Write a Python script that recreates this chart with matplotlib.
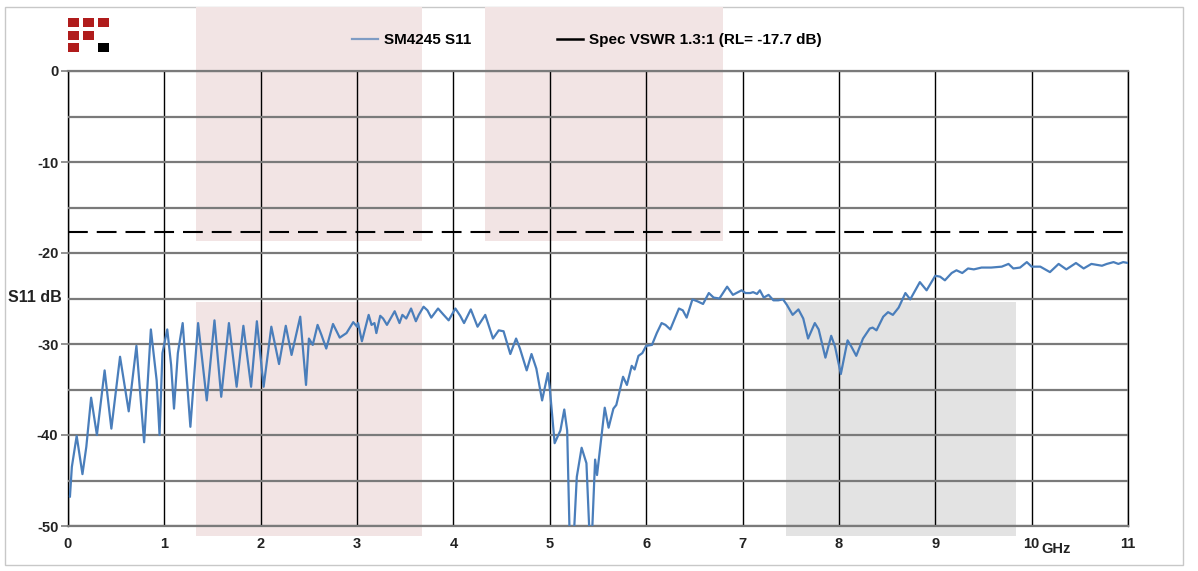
import matplotlib
matplotlib.use('Agg')
import matplotlib.pyplot as plt
from matplotlib.patches import Rectangle
from matplotlib.lines import Line2D

plt.rcParams['font.family'] = ['Liberation Sans', 'DejaVu Sans']
plt.rcParams['axes.unicode_minus'] = False

# S11 trace (GHz, dB)
freq_ghz = [0.02, 0.04, 0.09, 0.15, 0.19, 0.24, 0.30, 0.38, 0.45, 0.54,
            0.63, 0.71, 0.79, 0.86, 0.92, 0.95, 0.98, 1.03, 1.07, 1.10,
            1.14, 1.19, 1.27, 1.35, 1.44, 1.52, 1.59, 1.67, 1.75, 1.82,
            1.90, 1.96, 2.03, 2.11, 2.19, 2.26, 2.32, 2.41, 2.47, 2.50,
            2.54, 2.59, 2.63, 2.68, 2.75, 2.82, 2.89, 2.96, 3.00, 3.01,
            3.05, 3.12, 3.15, 3.18, 3.20, 3.24, 3.27, 3.31, 3.39, 3.44,
            3.47, 3.51, 3.56, 3.61, 3.64, 3.69, 3.73, 3.77, 3.84, 3.89,
            3.95, 4.02, 4.07, 4.11, 4.18, 4.25, 4.33, 4.41, 4.47, 4.52,
            4.59, 4.65, 4.69, 4.76, 4.81, 4.86, 4.92, 4.98, 5.00, 5.05,
            5.11, 5.15, 5.18, 5.21, 5.24, 5.28, 5.33, 5.38, 5.42, 5.43,
            5.47, 5.49, 5.57, 5.61, 5.66, 5.69, 5.76, 5.80, 5.85, 5.88,
            5.92, 5.96, 6.00, 6.06, 6.11, 6.16, 6.20, 6.25, 6.34, 6.38,
            6.42, 6.48, 6.53, 6.59, 6.65, 6.70, 6.76, 6.84, 6.90, 6.99,
            7.03, 7.08, 7.11, 7.15, 7.18, 7.22, 7.27, 7.32, 7.37, 7.42,
            7.46, 7.52, 7.58, 7.63, 7.68, 7.75, 7.79, 7.86, 7.92, 7.96,
            8.02, 8.09, 8.13, 8.18, 8.25, 8.32, 8.35, 8.39, 8.46, 8.51,
            8.56, 8.62, 8.69, 8.74, 8.84, 8.91, 9.00, 9.05, 9.10, 9.17,
            9.22, 9.28, 9.34, 9.40, 9.48, 9.58, 9.69, 9.76, 9.81, 9.88,
            9.95, 10.00, 10.09, 10.19, 10.28, 10.36, 10.46, 10.54, 10.62, 10.73,
            10.78, 10.85, 10.90, 10.95, 11.00]
s11_db = [-46.8, -43.5, -40.1, -44.3, -41.3, -35.9, -40.0, -32.9, -39.3, -31.4,
          -37.4, -30.2, -40.8, -28.4, -34.0, -40.0, -31.0, -28.4, -32.3, -37.1,
          -31.0, -27.7, -39.1, -27.7, -36.2, -27.4, -35.8, -27.7, -34.7, -28.0,
          -34.7, -27.5, -34.7, -28.1, -32.2, -28.0, -31.2, -27.0, -34.5, -29.4,
          -30.1, -27.9, -29.0, -30.5, -27.8, -29.3, -28.8, -27.6, -28.1, -27.7,
          -29.7, -26.8, -27.9, -27.7, -28.8, -26.9, -27.2, -27.9, -26.4, -27.7,
          -26.8, -27.2, -26.1, -27.5, -26.8, -25.9, -26.3, -27.1, -26.1, -26.7,
          -27.4, -26.1, -26.9, -27.7, -26.2, -28.1, -26.8, -29.4, -28.5, -28.6,
          -31.1, -29.4, -30.5, -32.9, -31.1, -32.7, -36.2, -33.2, -34.9, -40.9,
          -39.5, -37.2, -39.5, -53.0, -53.0, -44.6, -41.4, -43.1, -53.0, -53.0,
          -42.7, -44.4, -37.0, -39.2, -37.1, -36.7, -33.6, -34.5, -32.4, -32.8,
          -31.3, -31.0, -30.2, -30.1, -28.8, -27.7, -27.9, -28.4, -26.1, -26.3,
          -27.1, -25.1, -25.3, -25.6, -24.4, -24.9, -25.0, -23.7, -24.6, -24.1,
          -24.4, -24.4, -24.3, -24.5, -24.1, -24.9, -24.6, -25.2, -25.2, -25.1,
          -25.7, -26.8, -26.2, -27.2, -29.4, -27.7, -28.4, -31.5, -29.1, -30.3,
          -33.3, -29.6, -30.3, -31.3, -29.4, -28.3, -28.2, -28.5, -27.0, -26.5,
          -26.8, -26.0, -24.4, -25.1, -23.2, -24.1, -22.5, -22.6, -23.0, -22.2,
          -21.9, -22.2, -21.7, -21.8, -21.6, -21.6, -21.5, -21.2, -21.7, -21.6,
          -21.0, -21.5, -21.5, -22.1, -21.2, -21.8, -21.1, -21.7, -21.2, -21.4,
          -21.2, -21.0, -21.2, -21.0, -21.1]

spec_rl_db = -17.7

# shaded bands: (x0, x1, y0, y1, colour)
bands = [(1.33, 3.67, -18.7, 7.0, 'pink'),
         (4.33, 6.80, -18.7, 7.0, 'pink'),
         (1.33, 3.67, -51.1, -25.4, 'pink'),
         (7.45, 9.84, -51.1, -25.4, 'grey')]
band_colors = {'pink': '#f2e4e4', 'grey': '#e3e3e3'}

fig = plt.figure(figsize=(11.98, 5.71), dpi=100)
ax = fig.add_axes([68 / 1198, 1 - 526 / 571, 1060 / 1198, 455 / 571])

for x0, x1, y0, y1, c in bands:
    ax.add_patch(Rectangle((x0, y0), x1 - x0, y1 - y0, facecolor=band_colors[c],
                           edgecolor='none', zorder=0, clip_on=False))

ax.axhline(spec_rl_db, color='black', lw=1.5, dashes=(9.5, 4.3), zorder=3)
ax.plot(freq_ghz, s11_db, color='#4a7ebb', lw=1.6, zorder=4,
        solid_joinstyle='round', solid_capstyle='round')

ax.set_xlim(0, 11)
ax.set_ylim(-50, 0)
ax.set_xticks(range(0, 12))
ax.set_yticks(range(-50, 1, 10))
ax.set_yticks(range(-45, 0, 10), minor=True)
ax.tick_params(axis='x', length=0, pad=8, labelsize=10.5)
ax.tick_params(axis='y', which='major', length=5, width=1.2, color='#808080', pad=2, labelsize=10.5)
ax.tick_params(axis='y', which='minor', length=0)
for lab in ax.get_xticklabels() + ax.get_yticklabels():
    lab.set_fontweight('bold')
    lab.set_color('#222222')

ax.set_axisbelow(False)
ax.grid(axis='x', color='black', lw=1.0, zorder=1)
ax.grid(axis='y', which='both', color='#7a7a7a', lw=1.6, zorder=1)
for side in ['left', 'right']:
    ax.spines[side].set_color('black')
    ax.spines[side].set_linewidth(1.0)
for side in ['top', 'bottom']:
    ax.spines[side].set_color('#7a7a7a')
    ax.spines[side].set_linewidth(1.6)
ax.patch.set_alpha(0)

fig.text(8 / 1198, 1 - 297 / 571, 'S11 dB', fontsize=11.5, fontweight='bold',
         color='#222222', va='center', ha='left')
fig.text(1056 / 1198, 1 - 549 / 571, 'GHz', fontsize=10.5, fontweight='bold',
         color='#222222', va='center', ha='center')

handles = [Line2D([], [], color='#7f9cc4', lw=1.6),
           Line2D([], [], color='black', lw=1.8)]
fig.legend(handles, ['SM4245 S11', 'Spec VSWR 1.3:1 (RL= -17.7 dB)'],
           loc='center', bbox_to_anchor=(587 / 1198, 1 - 40 / 571), ncol=2,
           frameon=False, handlelength=1.7, handletextpad=0.4,
           columnspacing=5.6, prop={'weight': 'bold', 'size': 11})

# logo squares at the top left
logo = [(68, 18, '#b01c1c'), (83, 18, '#b01c1c'), (98, 18, '#b01c1c'),
        (68, 31, '#b01c1c'), (83, 31, '#b01c1c'),
        (68, 43, '#b01c1c'), (98, 43, 'black')]
for px, py, c in logo:
    fig.patches.append(Rectangle((px / 1198, 1 - (py + 9) / 571), 11 / 1198, 9 / 571,
                                 transform=fig.transFigure, facecolor=c,
                                 edgecolor='none'))

fig.patches.append(Rectangle((5 / 1198, 1 - 565 / 571), 1178 / 1198, 558 / 571,
                             transform=fig.transFigure, facecolor='none',
                             edgecolor='#c8c8c8', lw=1.0, zorder=-1))

fig.savefig('out.png', dpi=100)
